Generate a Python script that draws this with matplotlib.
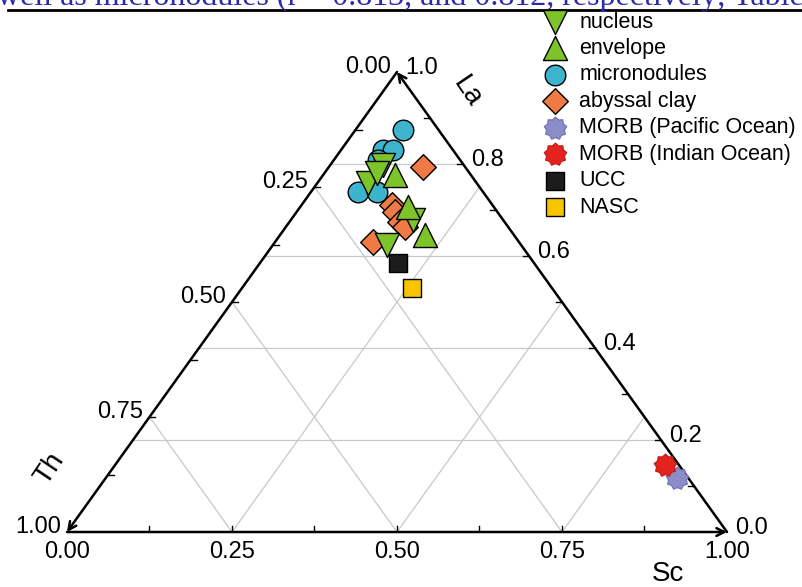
import numpy as np
import matplotlib
matplotlib.use("Agg")
import matplotlib.pyplot as plt
from matplotlib.path import Path

plt.rcParams['font.family'] = ['Liberation Sans', 'DejaVu Sans']

# ternary data (fractions): La and Sc (Th = 1 - La - Sc)
nucleus_la = [0.798, 0.759, 0.780, 0.678, 0.624]
nucleus_sc = [0.080, 0.077, 0.080, 0.185, 0.173]
envelope_la = [0.776, 0.707, 0.646]
envelope_sc = [0.109, 0.163, 0.219]
micro_la = [0.874, 0.830, 0.830, 0.809, 0.739, 0.739]
micro_sc = [0.072, 0.064, 0.079, 0.067, 0.071, 0.100]
clay_la = [0.793, 0.711, 0.696, 0.674, 0.663, 0.630]
clay_sc = [0.143, 0.137, 0.149, 0.168, 0.180, 0.149]
morb_pac_la = [0.117]
morb_pac_sc = [0.866]
morb_ind_la = [0.146]
morb_ind_sc = [0.833]
ucc_la = [0.585]
ucc_sc = [0.209]
nasc_la = [0.530]
nasc_sc = [0.258]

th_ticks = [0.0, 0.25, 0.5, 0.75, 1.0]
la_ticks = [0.0, 0.2, 0.4, 0.6, 0.8, 1.0]
sc_ticks = [0.0, 0.25, 0.5, 0.75, 1.0]


def tern(la, sc):
    la = np.asarray(la, float)
    sc = np.asarray(sc, float)
    return sc + la / 2.0, la


fig = plt.figure(figsize=(8.03, 5.87), dpi=100)
ax = fig.add_axes([67 / 803, 55 / 587, 660 / 803, 460 / 587])
ax.set_xlim(0, 1)
ax.set_ylim(0, 1)
ax.axis('off')

# grid
gc = '#c8c8c8'
for t in [0.25, 0.5, 0.75]:
    x, y = tern([1 - t, 0], [0, 1 - t])      # Th const
    ax.plot(x, y, color=gc, lw=0.9, zorder=1)
    x, y = tern([0, 1 - t], [t, t])          # Sc const
    ax.plot(x, y, color=gc, lw=0.9, zorder=1)
for v in [0.2, 0.4, 0.6, 0.8]:
    x, y = tern([v, v], [0, 1 - v])
    ax.plot(x, y, color=gc, lw=0.9, zorder=1)

# edges with arrows
A = tern(1, 0)
BL = tern(0, 0)
BR = tern(0, 1)
ap = dict(arrowstyle='->', lw=1.8, color='black', shrinkA=0, shrinkB=0,
          mutation_scale=14)
ax.annotate('', xy=BL, xytext=A, arrowprops=ap, zorder=2)
ax.annotate('', xy=BR, xytext=BL, arrowprops=ap, zorder=2)
ax.annotate('', xy=A, xytext=BR, arrowprops=ap, zorder=2)

# small ticks
for k in range(1, 8):
    t = k * 0.125
    x, y = tern(1 - t, 0)
    ax.plot([x, x + 0.009], [y, y], color='black', lw=1, zorder=2)
    x, y = tern(0, t)
    ax.plot([x, x], [y, y + 0.013], color='black', lw=1, zorder=2)
for k in range(1, 10):
    v = k * 0.1
    x, y = tern(v, 1 - v)
    ax.plot([x, x - 0.009], [y, y], color='black', lw=1, zorder=2)

# tick labels
fs = 17
for t in th_ticks:
    ax.annotate('%.2f' % t, tern(1 - t, 0), xytext=(-6, 5),
                textcoords='offset pixels', ha='right', va='center', fontsize=fs)
for v in la_ticks:
    ax.annotate('%.1f' % v, tern(v, 1 - v), xytext=(8, 4),
                textcoords='offset pixels', ha='left', va='center', fontsize=fs)
for s in sc_ticks:
    ax.annotate('%.2f' % s, tern(0, s), xytext=(0, -20),
                textcoords='offset pixels', ha='center', va='center', fontsize=fs)

# axis titles
fig.text(467 / 803, 1 - 92 / 587, 'La', fontsize=20, rotation=-56,
         ha='center', va='center')
fig.text(50 / 803, 1 - 469 / 587, 'Th', fontsize=20, rotation=56,
         ha='center', va='center')
fig.text(668 / 803, 1 - 574 / 587, 'Sc', fontsize=20, ha='center', va='center')

# MORB marker: bumpy polygon
n = 9
ang = np.linspace(0, 2 * np.pi, 2 * n, endpoint=False) + np.pi / 2
rad = np.where(np.arange(2 * n) % 2 == 0, 1.0, 0.8)
verts = np.column_stack([rad * np.cos(ang), rad * np.sin(ang)])
verts = np.vstack([verts, verts[:1]])
morb_marker = Path(verts, closed=True)

ek = dict(edgecolors='black', linewidths=1.0, zorder=3)
h_micro = ax.scatter(*tern(micro_la, micro_sc), s=220, marker='o', c='#3cb4cd',
                     label='micronodules', **ek)
h_clay = ax.scatter(*tern(clay_la, clay_sc), s=170, marker='D', c='#f07a45',
                    label='abyssal clay', **ek)
h_nuc = ax.scatter(*tern(nucleus_la, nucleus_sc), s=300, marker='v', c='#7dc42a',
                   label='nucleus', **ek)
h_env = ax.scatter(*tern(envelope_la, envelope_sc), s=300, marker='^', c='#7dc42a',
                   label='envelope', **ek)
h_pac = ax.scatter(*tern(morb_pac_la, morb_pac_sc), s=270, marker=morb_marker,
                   c='#8c8cc8', edgecolors='#7070b0', linewidths=0.8, zorder=3,
                   label='MORB (Pacific Ocean)')
h_ind = ax.scatter(*tern(morb_ind_la, morb_ind_sc), s=270, marker=morb_marker,
                   c='#e2231e', edgecolors='#c01a16', linewidths=0.8, zorder=3,
                   label='MORB (Indian Ocean)')
h_ucc = ax.scatter(*tern(ucc_la, ucc_sc), s=170, marker='s', c='#1c1c1c',
                   label='UCC', **ek)
h_nasc = ax.scatter(*tern(nasc_la, nasc_sc), s=170, marker='s', c='#f8c400',
                    label='NASC', **ek)
for h in [h_micro, h_clay, h_nuc, h_env, h_pac, h_ind, h_ucc, h_nasc]:
    h.set_clip_on(False)

fig.legend(handles=[h_nuc, h_env, h_micro, h_clay, h_pac, h_ind, h_ucc, h_nasc],
           loc='upper left', bbox_to_anchor=(544 / 803, 1 - 11.5 / 587),
           frameon=False, fontsize=15.5, handlelength=1.0, handletextpad=0.63,
           labelspacing=0.255, borderpad=0, borderaxespad=0, scatterpoints=1)

# cropped page text at the top
fig.text(-3 / 803, 1 - 5 / 587, 'well as micronodules (r = 0.813, and 0.812, respectively; Table',
         fontsize=23, family=['Liberation Serif', 'DejaVu Serif'], color='#2b2ba8',
         ha='left', va='baseline')
fig.add_artist(plt.Line2D([8 / 803, 1.0], [1 - 10 / 587, 1 - 10 / 587],
                          color='black', lw=2, transform=fig.transFigure))

fig.savefig('out.png', dpi=100)
